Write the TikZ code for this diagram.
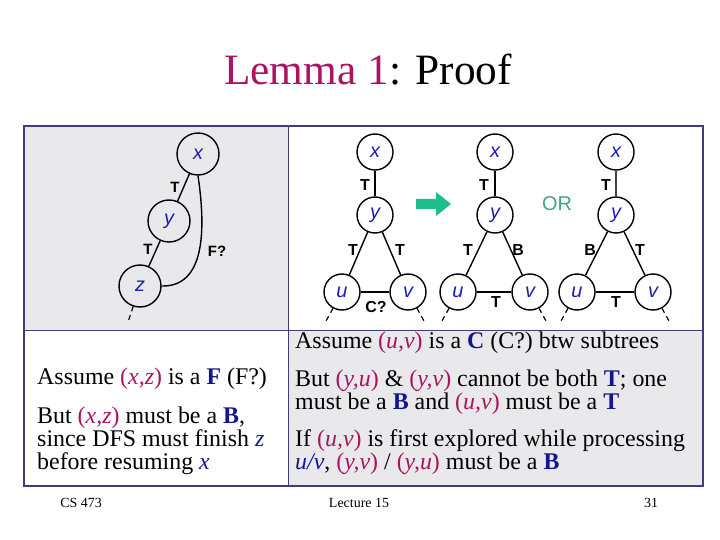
\documentclass[tikz,border=0pt]{standalone}
\usepackage{fontspec}
\setmainfont{Liberation Serif}
\setsansfont{Liberation Sans}
\definecolor{mag}{RGB}{172,18,98}
\definecolor{kwblue}{RGB}{22,22,140}
\definecolor{nodeblue}{RGB}{30,30,175}
\definecolor{border}{RGB}{62,62,120}
\definecolor{graybg}{RGB}{233,233,235}
\definecolor{arrowgreen}{RGB}{30,190,140}
\definecolor{orgreen}{RGB}{60,168,128}
\newcommand\vv[1]{\textcolor{mag}{(\textit{#1})}}
\newcommand\kw[1]{\textcolor{kwblue}{\textbf{#1}}}
\begin{document}
\begin{tikzpicture}[x=1bp,y=-1bp,
  vtx/.style={circle, draw, line width=1.4bp, minimum size=36bp, inner sep=0pt,
    font=\sffamily\itshape\fontsize{20}{20}\selectfont, text=nodeblue},
  vtxL/.style={vtx, minimum size=42bp},
  edge/.style={line width=1.4bp},
  stub/.style={line width=1.2bp, dash pattern=on 5bp off 4bp},
  lbl/.style={inner sep=0pt, font=\sffamily\bfseries\fontsize{16}{16}\selectfont},
  txt/.style={anchor=west, inner sep=0pt, align=left, font=\fontsize{24}{23}\selectfont},
  foot/.style={inner sep=0pt, font=\fontsize{14}{16}\selectfont}]
\useasboundingbox (0,0) rectangle (720,540);
% table
\fill[graybg] (24,126) rectangle (288,330);
\fill[graybg] (288,330) rectangle (703,486);
\draw[border, line width=1.2bp] (24,126) rectangle (703,486);
\draw[border, line width=1bp] (288,126) -- (288,486);
\draw[border, line width=1bp] (24,330) -- (703,330);
% title
\node (title) at (368,70) {\fontsize{43.5}{48}\selectfont\textcolor{mag}{Lemma 1}: Proof};
% left graph
\node[vtxL] (x1) at (198,154) {x};
\node[vtxL] (y1) at (169,221) {y};
\node[vtxL] (z1) at (140,286) {z};
\draw[edge] (x1) -- (y1);
\draw[edge] (y1) -- (z1);
\draw[edge] (x1.south) .. controls (206,230) and (205,287) .. (z1.east);
\coordinate (z1s) at (128,322);
\draw[stub] (z1) -- (z1s);
\node[lbl, font=\sffamily\bfseries\fontsize{15}{15}\selectfont] (t1) at (175,187) {T};
\node[lbl, font=\sffamily\bfseries\fontsize{15}{15}\selectfont] (t2) at (148,249) {T};
\node[lbl, font=\sffamily\bfseries\fontsize{15}{15}\selectfont] (f1) at (217,251) {F?};
% graph a
\node[vtx] (xa) at (375,152) {x};
\node[vtx] (ya) at (375,215) {y};
\node[vtx] (ua) at (342,292) {u};
\node[vtx] (va) at (408,292) {v};
\draw[edge] (xa) -- (ya);
\draw[edge] (ya) -- (ua);
\draw[edge] (ya) -- (va);
\draw[edge] (ua) -- (va);
\coordinate (uas) at (326,321);
\coordinate (vas) at (424,321);
\draw[stub] (ua) -- (uas);
\draw[stub] (va) -- (vas);
\node[lbl] (la1) at (365,185) {T};
\node[lbl] (la2) at (353,250) {T};
\node[lbl] (la3) at (400,250) {T};
\node[lbl] (la4) at (376,307) {C?};
% arrow
\fill[arrowgreen] (416,199) -- (436,199) -- (436,192) -- (451,204) -- (436,216) -- (436,209) -- (416,209) -- cycle;
% graph b
\node[vtx] (xb) at (495,152) {x};
\node[vtx] (yb) at (495,215) {y};
\node[vtx] (ub) at (458,292) {u};
\node[vtx] (vb) at (530,292) {v};
\draw[edge] (xb) -- (yb);
\draw[edge] (yb) -- (ub);
\draw[edge] (yb) -- (vb);
\draw[edge] (ub) -- (vb);
\coordinate (ubs) at (442,321);
\coordinate (vbs) at (546,321);
\draw[stub] (ub) -- (ubs);
\draw[stub] (vb) -- (vbs);
\node[lbl] (lb1) at (484,185) {T};
\node[lbl] (lb2) at (468,250) {T};
\node[lbl] (lb3) at (518,250) {B};
\node[lbl] (lb4) at (496,302) {T};
% OR
\node[inner sep=0pt, font=\sffamily\fontsize{20}{20}\selectfont, text=orgreen] (or) at (557,204) {OR};
% graph c
\node[vtx] (xc) at (616,152) {x};
\node[vtx] (yc) at (616,215) {y};
\node[vtx] (uc) at (577,292) {u};
\node[vtx] (vc) at (653,292) {v};
\draw[edge, black!75] (xc) -- (yc);
\draw[edge] (yc) -- (uc);
\draw[edge] (yc) -- (vc);
\draw[edge] (uc) -- (vc);
\coordinate (ucs) at (561,321);
\coordinate (vcs) at (669,321);
\draw[stub] (uc) -- (ucs);
\draw[stub] (vc) -- (vcs);
\node[lbl] (lc1) at (606,185) {T};
\node[lbl] (lc2) at (590,250) {B};
\node[lbl] (lc3) at (640,250) {T};
\node[lbl] (lc4) at (616,302) {T};
% left text
\node[txt] (l1) at (37,379) {Assume \vv{x,z} is a \kw{F} (F?)};
\node[txt] (l2) at (37,441) {But \vv{x,z} must be a \kw{B},\\
  since DFS must finish \textcolor{kwblue}{\textit{z}}\\
  before resuming \textcolor{kwblue}{\textit{x}}};
% right text
\node[txt] (r1) at (295,343) {Assume \vv{u,v} is a \kw{C} (C?) btw subtrees};
\node[txt] (r2) at (295,392.5) {But \vv{y,u} \& \vv{y,v} cannot be both \kw{T}; one\\
  must be a \kw{B} and \vv{u,v} must be a \kw{T}};
\node[txt] (r4) at (295,452.5) {If \vv{u,v} is first explored while processing\\
  \textcolor{kwblue}{\textit{u/v}}, \vv{y,v} / \vv{y,u} must be a \kw{B}};
% footer
\node[foot] (f1) at (81,503) {CS 473};
\node[foot] (f2) at (359,503) {Lecture 15};
\node[foot] (f3) at (651,503) {31};
\end{tikzpicture}
\end{document}
